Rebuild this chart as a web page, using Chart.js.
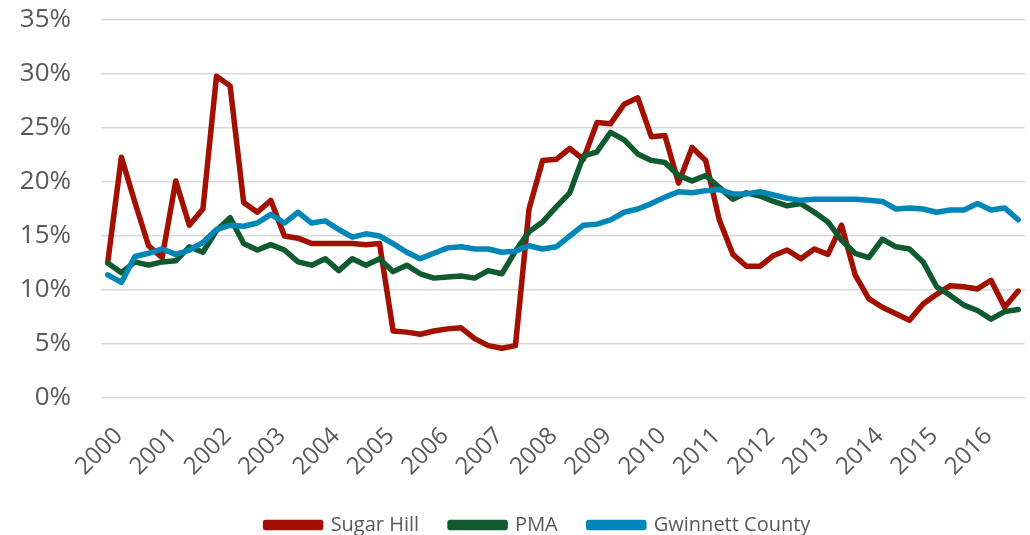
<!DOCTYPE html>
<html>
<head>
<meta charset="utf-8">
<title>Vacancy rate</title>
<script src="https://cdn.jsdelivr.net/npm/chart.js@4.4.0/dist/chart.umd.min.js"></script>
<style>
  html, body { margin: 0; padding: 0; background: #fff; }
  #wrap { width: 1030px; height: 535px; }
</style>
</head>
<body>
<div id="wrap"><canvas id="rateChart" width="1030" height="535"></canvas></div>
<script>
// quarterly figures, 2000 Q1 .. 2016 Q4
const years = [2000, 2001, 2002, 2003, 2004, 2005, 2006, 2007, 2008,
  2009, 2010, 2011, 2012, 2013, 2014, 2015, 2016];

const sugarHill = [
  12.6, 22.3, 18.1, 14.1, 13.0, 20.1, 16.0, 17.5,
  29.8, 28.9, 18.1, 17.2, 18.3, 15.0, 14.8, 14.3,
  14.3, 14.3, 14.3, 14.2, 14.3, 6.2, 6.1, 5.9,
  6.2, 6.4, 6.5, 5.5, 4.85, 4.6, 4.85, 17.5,
  22.0, 22.1, 23.1, 22.1, 25.5, 25.4, 27.2, 27.8,
  24.2, 24.3, 19.9, 23.2, 22.0, 16.5, 13.3, 12.2,
  12.2, 13.2, 13.7, 12.9, 13.8, 13.3, 16.0, 11.4,
  9.2, 8.4, 7.8, 7.2, 8.7, 9.6, 10.4, 10.3,
  10.1, 10.9, 8.4, 9.9
];

const pma = [
  12.5, 11.6, 12.6, 12.3, 12.6, 12.7, 14.0, 13.5,
  15.5, 16.7, 14.3, 13.7, 14.2, 13.7, 12.6, 12.3,
  12.9, 11.8, 12.9, 12.3, 12.9, 11.7, 12.3, 11.5,
  11.1, 11.2, 11.3, 11.1, 11.8, 11.5, 13.6, 15.4,
  16.3, 17.7, 19.0, 22.4, 22.8, 24.6, 23.9, 22.6,
  22.0, 21.8, 20.6, 20.1, 20.6, 19.5, 18.4, 19.0,
  18.7, 18.2, 17.8, 18.0, 17.2, 16.3, 14.6, 13.4,
  13.0, 14.7, 14.0, 13.8, 12.6, 10.3, 9.5, 8.6,
  8.1, 7.3, 8.0, 8.2
];

const gwinnett = [
  11.4, 10.7, 13.1, 13.4, 13.8, 13.3, 13.7, 14.4,
  15.6, 16.0, 15.9, 16.2, 17.0, 16.2, 17.2, 16.2,
  16.4, 15.6, 14.9, 15.2, 15.0, 14.3, 13.5, 12.9,
  13.4, 13.9, 14.0, 13.8, 13.8, 13.5, 13.6, 14.1,
  13.8, 14.0, 15.0, 16.0, 16.1, 16.5, 17.2, 17.5,
  18.0, 18.6, 19.1, 19.0, 19.2, 19.3, 18.9, 18.9,
  19.1, 18.8, 18.5, 18.3, 18.4, 18.4, 18.4, 18.4,
  18.3, 18.2, 17.5, 17.6, 17.5, 17.2, 17.4, 17.4,
  18.0, 17.4, 17.6, 16.5
];

const yTicks = [0, 5, 10, 15, 20, 25, 30, 35];

const quarterLabels = [];
years.forEach(y => {
  for (let q = 1; q <= 4; q++) quarterLabels.push(y + " Q" + q);
});

const textColor = "#595959";
const fontFamily = "'Open Sans', 'DejaVu Sans', sans-serif";

function lineSet(label, data, color, order) {
  return {
    label: label,
    data: data,
    borderColor: color,
    backgroundColor: color,
    borderWidth: 5.5,
    pointRadius: 0,
    tension: 0,
    fill: false,
    borderJoinStyle: "round",
    borderCapStyle: "round",
    order: order
  };
}

// nudge the legend a little to the right of the canvas centre
const legendShift = {
  id: "legendShift",
  afterLayout(chart) {
    if (chart.legend) chart.legend.left += 37;
  }
};

const ctx = document.getElementById("rateChart").getContext("2d");

new Chart(ctx, {
  type: "line",
  data: {
    labels: quarterLabels,
    datasets: [
      lineSet("Sugar Hill", sugarHill, "#A11000", 2),
      lineSet("PMA", pma, "#0F5A2E", 1),
      lineSet("Gwinnett County", gwinnett, "#0087B8", 0)
    ]
  },
  plugins: [legendShift],
  options: {
    responsive: false,
    animation: false,
    layout: {
      padding: { left: 14, right: 5, top: 20, bottom: -10 }
    },
    plugins: {
      legend: {
        position: "bottom",
        labels: {
          boxWidth: 55,
          boxHeight: 5,
          padding: 31,
          color: textColor,
          font: { family: fontFamily, size: 20 },
          sort: (a, b) => a.datasetIndex - b.datasetIndex
        }
      },
      tooltip: { enabled: false }
    },
    scales: {
      x: {
        offset: true,
        grid: { display: false, drawTicks: false },
        border: { display: false },
        // fixed axis height, no extra padding from the rotated labels
        afterFit: axis => {
          axis.height = 86;
          axis.paddingLeft = 0;
          axis.paddingRight = 0;
        },
        ticks: {
          autoSkip: false,
          maxRotation: 45,
          minRotation: 45,
          padding: 24,
          labelOffset: 11,
          color: textColor,
          font: { family: fontFamily, size: 24 },
          callback: function (value, index) {
            return index % 4 === 0 ? String(years[index / 4]) : "";
          }
        }
      },
      y: {
        min: yTicks[0],
        max: yTicks[yTicks.length - 1],
        afterBuildTicks: axis => {
          axis.ticks = yTicks.map(v => ({ value: v }));
        },
        afterFit: axis => {
          axis.width = 87;
          axis.paddingTop = 0;
          axis.paddingBottom = 0;
        },
        grid: { color: "#d9d9d9", lineWidth: 1.5, drawTicks: false },
        border: { display: false },
        ticks: {
          padding: 30,
          color: textColor,
          font: { family: fontFamily, size: 26 },
          callback: v => v + "%"
        }
      }
    }
  }
});
</script>
</body>
</html>
